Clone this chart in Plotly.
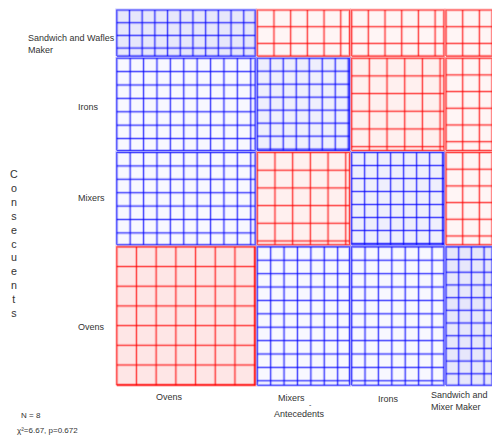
import plotly.graph_objects as go

# ---------------- data ----------------
antecedents = ["Ovens", "Mixers", "Irons", "Sandwich and<br>Mixer Maker"]
antecedent_counts = [3, 2, 2, 1]
consequents = ["Sandwich and Wafles<br>Maker", "Irons", "Mixers", "Ovens"]  # top to bottom
consequent_counts = [1, 2, 2, 3]
# signed shading level per cell (rows = consequents top->bottom, cols = antecedents)
shade = [
    [-3, 1, 1, 1],
    [-1, -2, 2, 1],
    [-1, 2, -2, 1],
    [3, -1, -1, -3],
]
n_total = 8
chi2_text = "χ²=6.67, p=0.672"

# ---------------- style ----------------
W, H = 492, 435
UNIT = 46.15          # pixels per count
GAP = 0.045           # gap between tiles (count units)
PAD = 0.06
X_LEFT_PX = 116.7
Y_BOTTOM_PX = 385.7
fill_map = {-3: "#e7e7fb", -2: "#efeffd", -1: "#f8f8ff",
            1: "#fff5f5", 2: "#fff0ef", 3: "#fee6e6"}
spacing_px = {-3: 12.7, -2: 13.0, -1: 13.4, 1: 16.7, 2: 17.7, 3: 19.7}
FONT = "Liberation Sans Narrow, Arial Narrow, Liberation Sans, Arial, sans-serif"
TXT = "#333333"
LBL = 9

L = X_LEFT_PX - PAD * UNIT
R = 0
x_max = (W - X_LEFT_PX) / UNIT
B = H - (Y_BOTTOM_PX + PAD * UNIT)
total_y = sum(consequent_counts) + GAP * (len(consequent_counts) - 1)
y_top = total_y + 0.065
T = Y_BOTTOM_PX - y_top * UNIT

# column and row extents in count units
col_edges = []
x = 0.0
for c in antecedent_counts:
    col_edges.append((x, x + c))
    x += c + GAP
row_edges = []  # top to bottom; y goes upward
y = total_y
for r in consequent_counts:
    row_edges.append((y - r, y))
    y -= r + GAP

fig = go.Figure()
for i, (y0, y1) in enumerate(row_edges):
    for j, (x0, x1) in enumerate(col_edges):
        lv = shade[i][j]
        base = "0,0,255" if lv < 0 else "255,0,0"
        # fill
        fig.add_trace(go.Scatter(x=[x0, x1, x1, x0, x0], y=[y0, y0, y1, y1, y0],
                                 mode="lines", fill="toself", fillcolor=fill_map[lv],
                                 line=dict(width=0), hoverinfo="skip", showlegend=False))
        # grid lines
        s = spacing_px[lv] / UNIT
        gx, gy = [], []
        k = 1
        while x0 + k * s < x1 - 0.01:
            gx += [x0 + k * s, x0 + k * s, None]
            gy += [y0, y1, None]
            k += 1
        k = 1
        while y1 - k * s > y0 + 0.01:
            gx += [x0, x1, None]
            gy += [y1 - k * s, y1 - k * s, None]
            k += 1
        fig.add_trace(go.Scatter(x=gx, y=gy, mode="lines",
                                 line=dict(color=f"rgba({base},0.2)", width=3),
                                 hoverinfo="skip", showlegend=False))
        fig.add_trace(go.Scatter(x=gx, y=gy, mode="lines",
                                 line=dict(color=f"rgba({base},0.62)", width=1),
                                 hoverinfo="skip", showlegend=False))
        # border
        fig.add_trace(go.Scatter(x=[x0, x1, x1, x0, x0], y=[y0, y0, y1, y1, y0],
                                 mode="lines", line=dict(color=f"rgba({base},0.22)", width=3),
                                 hoverinfo="skip", showlegend=False))
        fig.add_trace(go.Scatter(x=[x0, x1, x1, x0, x0], y=[y0, y0, y1, y1, y0],
                                 mode="lines", line=dict(color=f"rgba({base},0.65)", width=1.1),
                                 hoverinfo="skip", showlegend=False))

plot_w = W - L - R
plot_h = H - T - B


def px(xp):
    return (xp - L) / plot_w


def py(yp):
    return 1 - (yp - T) / plot_h


ann = []


def add(text, xp, yp, size=LBL, xanchor="left", align="left"):
    ann.append(dict(text=text, x=px(xp), y=py(yp), xref="paper", yref="paper",
                    xanchor=xanchor, yanchor="middle", align=align, showarrow=False,
                    font=dict(family=FONT, size=size, color=TXT)))


# consequent labels
row_label_pos = [(26, 44), (76, 107), (76, 198), (76, 327)]
for lab, (xp_, yp_) in zip(consequents, row_label_pos):
    add(lab, xp_, yp_)
# antecedent labels
col_label_pos = [(169, 397, "center"), (291.5, 398, "center"), (388.5, 399, "center"), (490, 401.5, "right")]
for lab, (xp_, yp_, anc) in zip(antecedents, col_label_pos):
    add(lab, xp_, yp_, xanchor=anc, align="left")
add("-", 310, 405, size=7, xanchor="center")
add("Antecedents", 299.5, 414, xanchor="center")
add("<br>".join(list("Consecuents")), 14, 243.5, size=10.7, xanchor="center", align="center")
add(f"N = {n_total}", 19, 416, size=8)
add(chi2_text, 15, 430.5, size=8)

fig.update_layout(
    width=W, height=H, paper_bgcolor="white", plot_bgcolor="white",
    margin=dict(l=L, r=R, t=T, b=B, pad=0, autoexpand=False),
    xaxis=dict(range=[-PAD, x_max], visible=False, fixedrange=True),
    yaxis=dict(range=[-PAD, y_top], visible=False, fixedrange=True),
    annotations=ann, showlegend=False,
)
fig.write_html("out.html")
